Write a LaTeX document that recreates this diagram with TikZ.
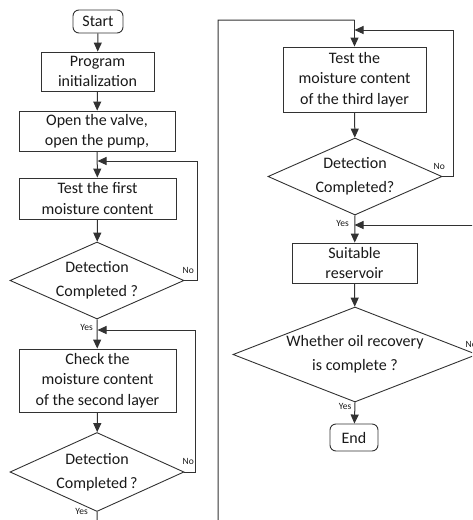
\documentclass[tikz,border=0pt]{standalone}
\usepackage{fontspec}
\setmainfont{Carlito}
\usetikzlibrary{shapes.geometric,arrows.meta}
\definecolor{lc}{RGB}{50,50,50}
\definecolor{tc}{RGB}{25,25,25}
\begin{document}
\begin{tikzpicture}[x=1pt,y=-1pt,
  line/.style={draw=lc, line width=1pt},
  arr/.style={line, -{Triangle[length=9pt,width=8pt]}},
  box/.style={draw=lc, line width=0.9pt, rectangle, inner sep=0pt, align=center, text=tc,
    font=\fontsize{16}{20.5}\selectfont},
  term/.style={box, rounded corners=6pt},
  dec/.style={draw=lc, line width=0.9pt, diamond, inner sep=0pt},
  dtext/.style={align=center, text=tc, inner sep=0pt, font=\fontsize{16}{24}\selectfont},
  lbl/.style={text=tc, inner sep=0pt, font=\fontsize{9.5}{10}\selectfont}]
\useasboundingbox (0,0) rectangle (472,520);
\clip (0,0) rectangle (472,520);

% left column
\node[term, minimum width=50pt, minimum height=23pt] (start) at (98,21.5) {Start};
\node[box, minimum width=113pt, minimum height=39pt] (init) at (97.5,71.5) {Program\\initialization};
\node[box, minimum width=156pt, minimum height=40pt] (open) at (97,131) {Open the valve,\\open the pump,};
\node[box, minimum width=157pt, minimum height=41pt] (test1) at (97.5,198.5) {Test the first\\moisture content};
\node[dec, minimum width=174pt, minimum height=77pt] (d1) at (97,280.5) {};
\node[dtext] at (d1) {Detection\\Completed ?};
\node[box, minimum width=157pt, minimum height=63pt] (check) at (97.5,380.5) {Check the\\moisture content\\of the second layer};
\node[dec, minimum width=174pt, minimum height=79pt] (d2) at (97,472) {};
\node[dtext] at (d2) {Detection\\Completed\,?};

\coordinate (j1) at (97.5,161);
\coordinate (j2) at (97.5,330);

% right column
\node[box, minimum width=143pt, minimum height=65pt] (test3) at (354.5,79.5) {Test the\\moisture content\\of the third layer};
\node[dec, minimum width=174pt, minimum height=77pt] (d3) at (355,176.5) {};
\node[dtext] at (d3) {Detection\\Completed?};
\node[box, minimum width=125pt, minimum height=40pt] (suit) at (354.5,263) {Suitable\\reservoir};
\node[dec, minimum width=244pt, minimum height=95pt] (d4) at (355,354.5) {};
\node[dtext] at (d4) {Whether oil recovery\\is complete ?};
\node[term, minimum width=48pt, minimum height=27pt] (end) at (354,437.5) {End};

\coordinate (j3) at (354.5,30);
\coordinate (j4) at (354.5,225);
\coordinate (top) at (354.5,20);
\coordinate (bl) at (97.5,540);
\coordinate (br) at (218,540);
\coordinate (tl) at (218,20);

% main flow
\draw[arr] (start) -- (init);
\draw[arr] (init) -- (open);
\draw[arr] (open) -- (test1);
\draw[arr] (test1) -- (d1);
\draw[arr] (d1.south) -- (check);
\draw[arr] (check) -- (d2);
\draw[line] (d2.south) -- (bl) -- (br) -- (tl) -- (top);
\draw[arr] (top) -- (test3);
\draw[arr] (test3) -- (d3);
\draw[arr] (d3.south) -- (suit);
\draw[arr] (suit) -- (d4);
\draw[arr] (d4.south) -- (end);

% loops
\draw[arr] (d1.east) -- ++(13,0) |- (j1);
\draw[arr] (d2.east) -- ++(11,0) |- (j2);
\draw[arr] (d3.east) -- ++(11,0) |- (j3);
\draw[arr] (d4.east) -- ++(15,0) |- (j4);

% labels
\node[lbl, anchor=south west] at ([xshift=-2pt,yshift=7pt]d1.east) {No};
\node[lbl, anchor=south west] at ([xshift=-2pt,yshift=7pt]d2.east) {No};
\node[lbl, anchor=south west] at ([xshift=-9pt,yshift=7pt]d3.east) {No};
\node[lbl, anchor=south west] at ([xshift=-12pt,yshift=7pt]d4.east) {No};
\node[lbl, anchor=north east] at ([xshift=-4pt,yshift=-5pt]d1.south) {Yes};
\node[lbl, anchor=north east] at ([xshift=-9pt,yshift=4pt]d2.south) {Yes};
\node[lbl, anchor=north east] at ([xshift=-6pt,yshift=-5pt]d3.south) {Yes};
\node[lbl, anchor=north east] at ([xshift=-3.5pt,yshift=-1pt]d4.south) {Yes};
\end{tikzpicture}
\end{document}
